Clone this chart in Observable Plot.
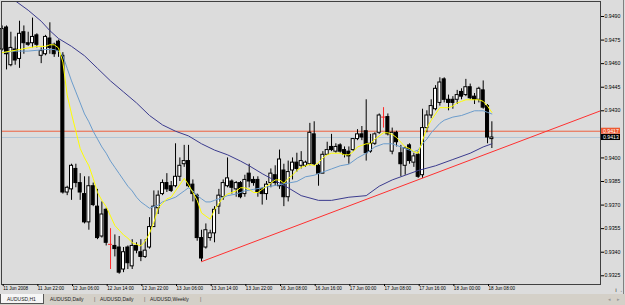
<!DOCTYPE html>
<html><head><meta charset="utf-8">
<script src="https://cdn.jsdelivr.net/npm/d3@7"></script>
<script src="https://cdn.jsdelivr.net/npm/@observablehq/plot@0.6"></script>
<style>
html,body{margin:0;padding:0;background:#dcdcdc;}
#wrap{position:relative;width:625px;height:305px;overflow:hidden;background:#dcdcdc;}
#chart{position:absolute;left:0;top:0;}
#edge{position:absolute;left:623px;top:0;width:1px;height:294px;background:#808080;}
#tabs{position:absolute;left:0;top:294px;width:625px;height:11px;background:#d4d0c8;font-family:"Liberation Sans",Arial,sans-serif;font-size:5px;color:#222;}
.tab{position:absolute;top:0;height:10px;line-height:10px;white-space:nowrap;}
.tab.active{background:#f6f6f6;border:1px solid #555;border-top:none;box-sizing:border-box;padding-left:6px;}
.sep{position:absolute;top:0;line-height:10px;color:#555;}
.arr{position:absolute;top:0;line-height:10px;color:#999;font-size:5px;}
</style></head>
<body><div id="wrap"><div id="chart"></div><div id="edge"></div><div id="tabs"></div></div>
<script>
// ---- data (AUDUSD, H1) ----
const open  = [0.9469,0.9483,0.9459,0.9469,0.9463,0.9480,0.9473,0.9473,0.9478,0.9465,0.9466,0.9476,0.9472,0.9474,0.9465,0.9378,0.9380,0.9393,0.9384,0.9377,0.9359,0.9382,0.9369,0.9350,0.9367,0.9345,0.9344,0.9343,0.9329,0.9343,0.9331,0.9344,0.9340,0.9337,0.9343,0.9356,0.9368,0.9377,0.9384,0.9382,0.9382,0.9388,0.9396,0.9398,0.9383,0.9376,0.9349,0.9343,0.9349,0.9352,0.9369,0.9375,0.9382,0.9385,0.9380,0.9384,0.9377,0.9390,0.9386,0.9386,0.9380,0.9377,0.9384,0.9389,0.9382,0.9392,0.9375,0.9392,0.9397,0.9395,0.9395,0.9396,0.9415,0.9395,0.9390,0.9402,0.9407,0.9404,0.9408,0.9405,0.9404,0.9405,0.9412,0.9415,0.9417,0.9404,0.9409,0.9416,0.9426,0.9426,0.9404,0.9416,0.9403,0.9395,0.9408,0.9397,0.9402,0.9389,0.9419,0.9427,0.9431,0.9435,0.9450,0.9437,0.9437,0.9437,0.9442,0.9440,0.9445,0.9439,0.9437,0.9443,0.9433,0.9412];
const high  = [0.9484,0.9484,0.9480,0.9477,0.9487,0.9484,0.9480,0.9489,0.9479,0.9470,0.9478,0.9486,0.9473,0.9475,0.9467,0.9382,0.9396,0.9396,0.9390,0.9388,0.9388,0.9384,0.9380,0.9372,0.9368,0.9355,0.9351,0.9350,0.9343,0.9344,0.9348,0.9346,0.9348,0.9348,0.9362,0.9379,0.9379,0.9386,0.9390,0.9385,0.9409,0.9400,0.9408,0.9408,0.9386,0.9377,0.9354,0.9358,0.9354,0.9369,0.9380,0.9386,0.9400,0.9386,0.9385,0.9385,0.9389,0.9396,0.9388,0.9388,0.9381,0.9385,0.9393,0.9395,0.9405,0.9396,0.9398,0.9400,0.9403,0.9404,0.9398,0.9422,0.9423,0.9396,0.9404,0.9410,0.9415,0.9409,0.9409,0.9407,0.9407,0.9412,0.9418,0.9420,0.9437,0.9415,0.9416,0.9428,0.9432,0.9428,0.9419,0.9417,0.9408,0.9407,0.9409,0.9403,0.9404,0.9431,0.9430,0.9437,0.9446,0.9451,0.9451,0.9440,0.9439,0.9443,0.9444,0.9450,0.9447,0.9441,0.9445,0.9449,0.9434,0.9423];
const low   = [0.9468,0.9456,0.9458,0.9459,0.9457,0.9466,0.9471,0.9470,0.9470,0.9460,0.9465,0.9466,0.9464,0.9464,0.9377,0.9376,0.9373,0.9381,0.9373,0.9358,0.9354,0.9369,0.9348,0.9349,0.9344,0.9329,0.9337,0.9326,0.9327,0.9329,0.9329,0.9339,0.9334,0.9336,0.9342,0.9356,0.9364,0.9376,0.9378,0.9378,0.9381,0.9385,0.9394,0.9381,0.9372,0.9347,0.9334,0.9342,0.9347,0.9346,0.9364,0.9373,0.9381,0.9377,0.9375,0.9374,0.9375,0.9381,0.9382,0.9375,0.9370,0.9373,0.9381,0.9382,0.9380,0.9369,0.9372,0.9386,0.9391,0.9393,0.9394,0.9395,0.9395,0.9382,0.9390,0.9402,0.9404,0.9403,0.9403,0.9400,0.9396,0.9404,0.9411,0.9411,0.9398,0.9403,0.9408,0.9415,0.9419,0.9414,0.9402,0.9407,0.9388,0.9389,0.9396,0.9394,0.9387,0.9387,0.9416,0.9425,0.9430,0.9433,0.9435,0.9430,0.9431,0.9434,0.9437,0.9439,0.9437,0.9434,0.9435,0.9431,0.9409,0.9406];
const close = [0.9482,0.9466,0.9470,0.9462,0.9479,0.9473,0.9472,0.9477,0.9472,0.9468,0.9477,0.9470,0.9466,0.9468,0.9378,0.9381,0.9395,0.9384,0.9378,0.9359,0.9382,0.9370,0.9349,0.9364,0.9346,0.9345,0.9342,0.9327,0.9340,0.9333,0.9344,0.9341,0.9337,0.9341,0.9356,0.9369,0.9376,0.9384,0.9380,0.9379,0.9388,0.9395,0.9398,0.9382,0.9377,0.9349,0.9336,0.9354,0.9352,0.9367,0.9376,0.9384,0.9387,0.9381,0.9384,0.9375,0.9386,0.9385,0.9384,0.9378,0.9377,0.9383,0.9390,0.9384,0.9399,0.9375,0.9391,0.9397,0.9393,0.9398,0.9397,0.9416,0.9396,0.9390,0.9402,0.9405,0.9405,0.9407,0.9404,0.9402,0.9401,0.9412,0.9415,0.9413,0.9403,0.9409,0.9415,0.9427,0.9426,0.9415,0.9416,0.9410,0.9396,0.9406,0.9398,0.9401,0.9388,0.9419,0.9427,0.9433,0.9444,0.9448,0.9437,0.9435,0.9435,0.9440,0.9439,0.9445,0.9438,0.9437,0.9444,0.9432,0.9413,0.9413];

// moving averages: [bar, price]
const maFast = [[0,0.9467],[2,0.9468],[4,0.9469],[6,0.9470],[8,0.9471],[10,0.9471],[11,0.9472],[12,0.9472],[13,0.9470],[14,0.9461],[15,0.9440],[16,0.9428],[17,0.9417],[18,0.9406],[19,0.9400],[20,0.9395],[21,0.9387],[22,0.9378],[23,0.9373],[24,0.9369],[25,0.9363],[26,0.9357],[27,0.9354],[28,0.9351],[29,0.9349],[30,0.9346],[31,0.9345],[32,0.9344],[33,0.9347],[34,0.9352],[35,0.9359],[36,0.9368],[37,0.9371],[38,0.9374],[39,0.9375],[40,0.9379],[41,0.9383],[42,0.9387],[43,0.9383],[44,0.9378],[45,0.9373],[46,0.9365],[47,0.9363],[48,0.9361],[49,0.9367],[50,0.9371],[51,0.9375],[52,0.9377],[53,0.9378],[54,0.9379],[55,0.9381],[56,0.9381],[57,0.9380],[58,0.9378],[59,0.9378],[60,0.9380],[61,0.9382],[62,0.9384],[63,0.9386],[64,0.9386],[65,0.9384],[66,0.9387],[67,0.9389],[68,0.9392],[69,0.9394],[70,0.9395],[71,0.9396],[72,0.9395],[73,0.9397],[74,0.9400],[75,0.9402],[76,0.9403],[77,0.9403],[78,0.9403],[79,0.9402],[80,0.9402],[81,0.9404],[82,0.9407],[83,0.9408],[84,0.9409],[85,0.9409],[86,0.9412],[87,0.9414],[88,0.9416],[89,0.9416],[90,0.9415],[91,0.9413],[92,0.9410],[93,0.9407],[94,0.9406],[95,0.9404],[96,0.9403],[97,0.9411],[98,0.9419],[99,0.9424],[100,0.9428],[101,0.9432],[102,0.9432],[103,0.9432],[104,0.9433],[105,0.9435],[106,0.9436],[107,0.9437],[108,0.9437],[109,0.9437],[110,0.9437],[111,0.9436],[112,0.9433],[113,0.9429]];
const maMedium = [[0,0.9467],[3,0.9468],[6,0.9468],[10,0.9469],[12,0.9469],[13,0.9468],[14,0.9465],[15,0.9457],[16,0.9449],[17,0.9442],[18,0.9435],[19,0.9428],[20,0.9423],[21,0.9417],[22,0.9412],[23,0.9407],[24,0.9403],[25,0.9398],[26,0.9394],[27,0.9390],[28,0.9386],[29,0.9382],[30,0.9379],[31,0.9375],[32,0.9372],[33,0.9370],[34,0.9368],[35,0.9369],[36,0.9370],[37,0.9372],[38,0.9373],[40,0.9375],[42,0.9379],[43,0.9381],[44,0.9379],[45,0.9376],[46,0.9374],[47,0.9372],[48,0.9372],[49,0.9373],[50,0.9374],[52,0.9376],[54,0.9377],[56,0.9379],[58,0.9380],[60,0.9381],[62,0.9382],[64,0.9383],[66,0.9384],[68,0.9385],[70,0.9388],[72,0.9389],[74,0.9391],[76,0.9393],[78,0.9395],[80,0.9396],[82,0.9400],[84,0.9403],[86,0.9407],[88,0.9409],[90,0.9409],[92,0.9407],[94,0.9405],[95,0.9404],[96,0.9405],[97,0.9409],[98,0.9412],[99,0.9416],[100,0.9419],[101,0.9422],[102,0.9424],[104,0.9426],[106,0.9427],[108,0.9429],[109,0.9430],[110,0.9430],[111,0.9430],[112,0.9429],[113,0.9428]];
const maSlow = [[0,0.9504],[3,0.9500],[6,0.9494],[9,0.9487],[11,0.9481],[13,0.9476],[16,0.9471],[19,0.9465],[22,0.9457],[25,0.9449],[28,0.9442],[31,0.9435],[34,0.9427],[37,0.9421],[40,0.9417],[43,0.9414],[46,0.9409],[49,0.9405],[52,0.9402],[55,0.9398],[57,0.9395],[60,0.9390],[62,0.9387],[64,0.9384],[66,0.9381],[69,0.9376],[73,0.9373],[76,0.9373],[80,0.9375],[84,0.9376],[87,0.9382],[90,0.9386],[93,0.9389],[96,0.9392],[100,0.9395],[104,0.9399],[108,0.9403],[111,0.9407],[113,0.9409]];
const trendLine = [[46,0.9334],[138,0.94299]];
const levelPrice = 0.9417;   // horizontal line
const bidPrice = 0.9413;     // last price
const yTicks = [0.9490,0.9475,0.9460,0.9445,0.9430,0.9400,0.9385,0.9370,0.9355,0.9340,0.9325];
const xTickBars = [0,8,16,24,32,40,48,56,64,72,80,88,96,104,112];
const xTickLabels = ["11 Jun 2008","11 Jun 22:00","12 Jun 06:00","12 Jun 14:00","12 Jun 22:00","13 Jun 06:00","13 Jun 14:00","13 Jun 22:00","16 Jun 08:00","16 Jun 16:00","17 Jun 00:00","17 Jun 08:00","17 Jun 16:00","18 Jun 00:00","18 Jun 08:00"];
const tabNames = ["AUDUSD,H1","AUDUSD,Daily","AUDUSD,Daily","AUDUSD,Weekly"];

// ---- build ----
const candles = open.map((o, i) => ({i, o, h: high[i], l: low[i], c: close[i]}));
const bodies = candles.filter(d => d.c !== d.o);
const dojis = candles.filter(d => d.c === d.o);
const half = 0.35;

const xDomain = [-0.16, 138.07];
const yDomain = [0.931946, 0.949955];
const pxPerBar = 599 / (xDomain[1] - xDomain[0]);
const pricePerPx = (yDomain[1] - yDomain[0]) / 283;
const priceTags = [{p: levelPrice, bg: "#ee5a32"}, {p: bidPrice, bg: "#000000"}];

const chart = Plot.plot({
  width: 625, height: 294,
  marginLeft: 1, marginRight: 25, marginTop: 1, marginBottom: 10,
  style: {background: "#dcdcdc", fontFamily: "Liberation Sans, Arial, sans-serif", color: "#000", overflow: "visible"},
  x: {domain: xDomain, axis: null},
  y: {domain: yDomain, axis: null},
  color: {type: "identity"},
  marks: [
    Plot.ruleY([bidPrice], {stroke: "#b2c6d6", strokeWidth: 1}),
    Plot.ruleY([levelPrice], {stroke: "#ee6240", strokeWidth: 1}),
    Plot.ruleX(candles, {x: "i", y1: "l", y2: "h", stroke: d => d.c === d.o ? "#ff2a2a" : "#000", strokeWidth: 1}),
    Plot.rect(bodies, {x1: d => d.i - half, x2: d => d.i + half, y1: "o", y2: "c",
      fill: d => d.c > d.o ? "#ffffff" : "#000000", stroke: "#000", strokeWidth: 1}),
    Plot.ruleY(dojis, {y: "o", x1: d => d.i - half - 0.1, x2: d => d.i + half + 0.1, stroke: "#ff2a2a"}),
    Plot.line(maSlow, {x: d => d[0], y: d => d[1], stroke: "#3b3b8e", strokeWidth: 1, clip: true}),
    Plot.line(maMedium, {x: d => d[0], y: d => d[1], stroke: "#6b9ccc", strokeWidth: 1, clip: true}),
    Plot.line(maFast, {x: d => d[0], y: d => d[1], stroke: "#ffff00", strokeWidth: 1, clip: true}),
    Plot.line(trendLine, {x: d => d[0], y: d => d[1], stroke: "#ff3030", strokeWidth: 1, clip: true}),
    Plot.frame({stroke: "#404040"}),
    Plot.axisY(yTicks, {anchor: "right", tickSize: 3, tickPadding: 1, fontSize: 5.2,
      tickFormat: d => d.toFixed(4), stroke: "#000"}),
    Plot.axisX(xTickBars, {anchor: "bottom", tickSize: 2, tickPadding: 0, fontSize: 4.6,
      textAnchor: "start", dx: 1, tickFormat: d => xTickLabels[xTickBars.indexOf(d)], stroke: "#000"}),
    Plot.rect(priceTags, {x1: () => xDomain[1] + 1 / pxPerBar, x2: () => xDomain[1] + 20 / pxPerBar,
      y1: d => d.p - 3 * pricePerPx, y2: d => d.p + 3 * pricePerPx, fill: d => d.bg}),
    Plot.text(priceTags, {x: () => xDomain[1] + 2.5 / pxPerBar, y: "p", text: d => d.p.toFixed(4),
      textAnchor: "start", fill: "#ffffff", fontSize: 5.2})
  ]
});
document.getElementById("chart").append(chart);

// tab bar
const tabs = document.getElementById("tabs");
const tabLeft = [0, 50, 100, 150];
const tabW = [44, 40, 40, 46];
tabNames.forEach((name, k) => {
  const t = document.createElement("div");
  t.className = "tab" + (k === 0 ? " active" : "");
  t.style.left = tabLeft[k] + "px";
  if (k === 0) t.style.width = tabW[k] + "px";
  t.textContent = name;
  tabs.append(t);
  if (k > 0) {
    const s = document.createElement("div");
    s.className = "sep";
    s.style.left = (tabLeft[k] + tabW[k] + 4) + "px";
    s.textContent = "|";
    tabs.append(s);
  }
});
[["\u25C2", 608], ["\u25B8", 617]].forEach(([ch, x]) => {
  const a = document.createElement("div");
  a.className = "arr"; a.style.left = x + "px"; a.textContent = ch; tabs.append(a);
});
</script></body></html>
